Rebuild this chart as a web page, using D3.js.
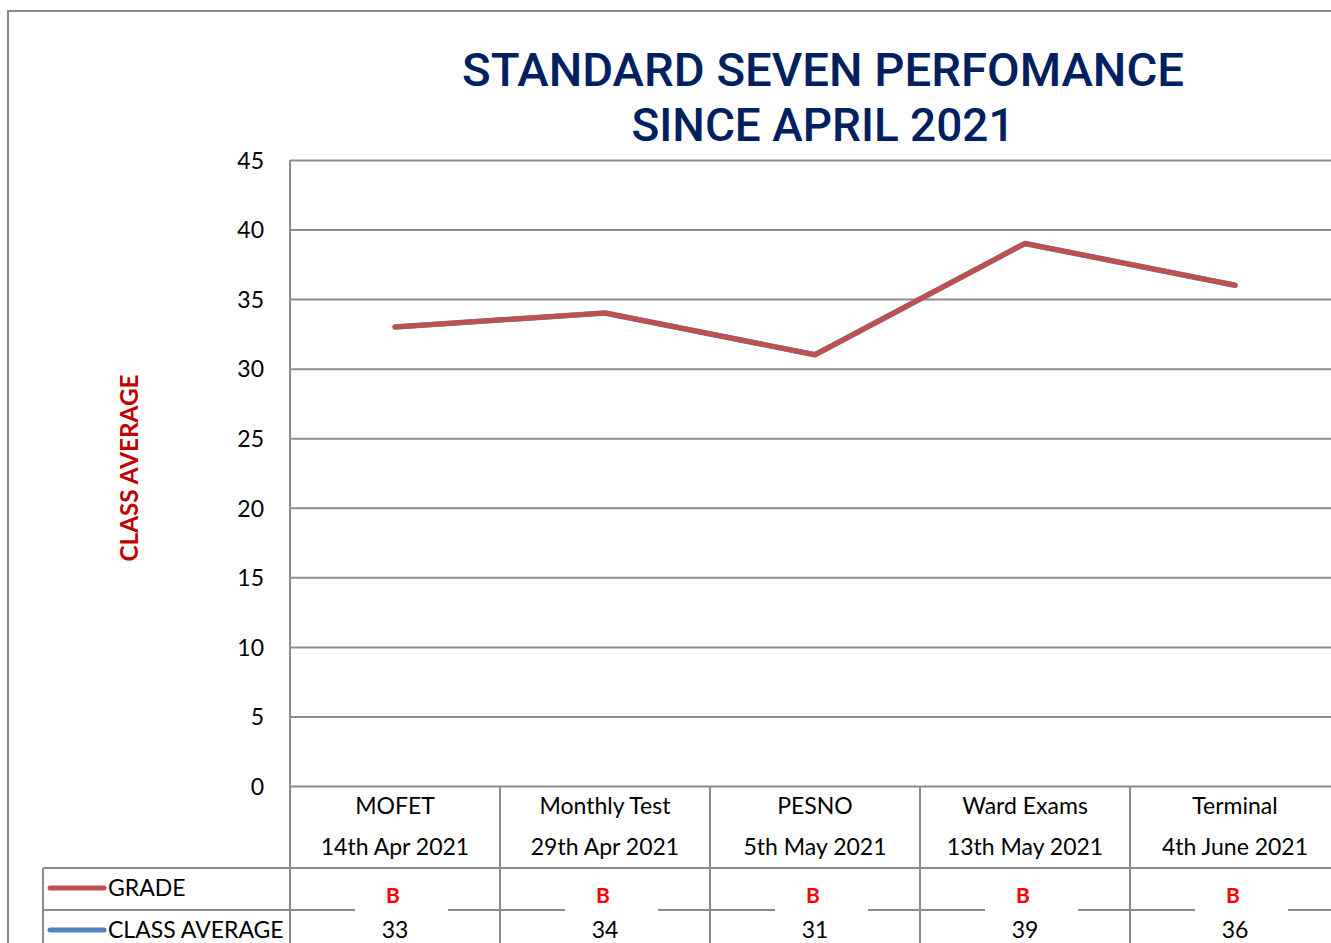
<!DOCTYPE html>
<html>
<head>
<meta charset="utf-8">
<script src="https://cdn.jsdelivr.net/npm/d3@7"></script>
<style>
  body { margin: 0; background: #fff; }
  svg { display: block; }
</style>
</head>
<body>
<div id="chart"></div>
<script>
// data
const categories = ["MOFET", "Monthly Test", "PESNO", "Ward Exams", "Terminal"];
const examDates = ["14th Apr 2021", "29th Apr 2021", "5th May 2021", "13th May 2021", "4th June 2021"];
const classAverage = [33, 34, 31, 39, 36];
const grades = ["B", "B", "B", "B", "B"];
const yTicks = [0, 5, 10, 15, 20, 25, 30, 35, 40, 45];
const titleLines = ["STANDARD SEVEN PERFOMANCE", "SINCE APRIL 2021"];

const W = 1331, H = 943;
const plot = {left: 290, right: 1340, top: 160, bottom: 786};
const gridColor = "#8c8c8c";
const font = "Lato, 'Open Sans', sans-serif";

const svg = d3.select("#chart").append("svg")
    .attr("width", W)
    .attr("height", H);

// outer chart border (cut off on the right and bottom)
svg.append("path")
    .attr("d", "M8," + H + " L8,11 L" + (W + 5) + ",11")
    .attr("fill", "none")
    .attr("stroke", "#888")
    .attr("stroke-width", 2);

var x = d3.scaleBand()
    .domain(categories)
    .range([plot.left, plot.right]);

var y = d3.scaleLinear()
    .domain([0, 45])
    .range([plot.bottom, plot.top]);

// title
svg.append("g").selectAll("text")
    .data(titleLines)
    .enter()
    .append("text")
      .attr("x", 823)
      .attr("y", (d, i) => 86 + i * 55)
      .attr("text-anchor", "middle")
      .attr("textLength", (d, i) => i == 0 ? 722 : 383)
      .attr("lengthAdjust", "spacingAndGlyphs")
      .style("font-family", "Roboto, sans-serif")
      .style("font-weight", 500)
      .style("font-size", "46px")
      .style("fill", "#002060")
      .text(d => d);

// y axis with gridlines
var yAxis = svg.append("g")
    .attr("transform", "translate(" + plot.left + ",0)")
    .call(d3.axisLeft(y)
      .tickValues(yTicks)
      .tickSize(-(plot.right - plot.left))
      .tickPadding(26));
yAxis.select(".domain").remove();
yAxis.selectAll("line")
    .attr("stroke", gridColor)
    .attr("stroke-width", 2);
yAxis.selectAll("text")
    .attr("dy", "0.36em")
    .style("font-family", font)
    .style("font-size", "23px")
    .style("fill", "#000");

// left border of plot area
svg.append("line")
    .attr("x1", plot.left).attr("x2", plot.left)
    .attr("y1", plot.top).attr("y2", H)
    .attr("stroke", gridColor)
    .attr("stroke-width", 2);

// y axis title
svg.append("text")
    .attr("transform", "translate(138,468) rotate(-90)")
    .attr("text-anchor", "middle")
    .attr("textLength", 187)
    .attr("lengthAdjust", "spacingAndGlyphs")
    .style("font-family", font)
    .style("font-weight", "bold")
    .style("font-size", "24px")
    .style("fill", "#C00000")
    .text("CLASS AVERAGE");

// data table lines
const rowGrade = 868, rowAvg = 910;
svg.append("g").selectAll("line")
    .data(categories)
    .enter()
    .append("line")
      .attr("x1", d => x(d) + x.bandwidth())
      .attr("x2", d => x(d) + x.bandwidth())
      .attr("y1", plot.bottom)
      .attr("y2", H)
      .attr("stroke", gridColor)
      .attr("stroke-width", 2);

svg.append("g").selectAll("line")
    .data([rowGrade, rowAvg])
    .enter()
    .append("line")
      .attr("x1", 43)
      .attr("x2", W + 5)
      .attr("y1", d => d)
      .attr("y2", d => d)
      .attr("stroke", gridColor)
      .attr("stroke-width", 2);

svg.append("line")
    .attr("x1", 43).attr("x2", 43)
    .attr("y1", rowGrade).attr("y2", H)
    .attr("stroke", gridColor)
    .attr("stroke-width", 2);

// category labels
var cat = svg.append("g").selectAll("g")
    .data(categories)
    .enter()
    .append("g")
      .attr("transform", d => "translate(" + (x(d) + x.bandwidth() / 2) + ",0)");
cat.append("text")
    .attr("y", 806)
    .attr("dy", "0.36em")
    .text(d => d);
cat.append("text")
    .attr("y", 847)
    .attr("dy", "0.36em")
    .text((d, i) => examDates[i]);
cat.selectAll("text")
    .attr("text-anchor", "middle")
    .style("font-family", font)
    .style("font-size", "23px")
    .style("fill", "#000");

// legend keys
const legend = [
  {name: "GRADE", color: "#C0504D", y: 888},
  {name: "CLASS AVERAGE", color: "#4F81BD", y: 930}
];
var lg = svg.append("g").selectAll("g")
    .data(legend)
    .enter()
    .append("g");
lg.append("line")
    .attr("x1", 50).attr("x2", 104)
    .attr("y1", d => d.y).attr("y2", d => d.y)
    .attr("stroke", d => d.color)
    .attr("stroke-width", 5)
    .attr("stroke-linecap", "round");
lg.append("text")
    .attr("x", 108)
    .attr("y", d => d.y)
    .attr("dy", "0.36em")
    .style("font-family", font)
    .style("font-size", "23px")
    .style("fill", "#000")
    .text(d => d.name);

// grade text boxes
var gb = svg.append("g").selectAll("g")
    .data(grades)
    .enter()
    .append("g")
      .attr("transform", (d, i) => "translate(" + (x(categories[i]) + x.bandwidth() / 2) + ",0)");
gb.append("rect")
    .attr("x", -40)
    .attr("y", rowGrade + 2)
    .attr("width", 93)
    .attr("height", 41)
    .attr("fill", "#fff");
gb.append("text")
    .attr("x", -2)
    .attr("y", 895)
    .attr("dy", "0.36em")
    .attr("text-anchor", "middle")
    .style("font-family", font)
    .style("font-weight", "bold")
    .style("font-size", "21px")
    .style("fill", "#FF0000")
    .text(d => d);

// class average values
svg.append("g").selectAll("text")
    .data(classAverage)
    .enter()
    .append("text")
      .attr("x", (d, i) => x(categories[i]) + x.bandwidth() / 2)
      .attr("y", 930)
      .attr("dy", "0.36em")
      .attr("text-anchor", "middle")
      .style("font-family", font)
      .style("font-size", "23px")
      .style("fill", "#000")
      .text(d => d);

// lines
var line = d3.line()
    .x((d, i) => x(categories[i]) + x.bandwidth() / 2)
    .y(d => y(d));

svg.append("path")
    .datum(classAverage)
    .attr("d", line)
    .attr("fill", "none")
    .attr("stroke", "#4F81BD")
    .attr("stroke-width", 5.5)
    .attr("stroke-linejoin", "round")
    .attr("stroke-linecap", "round");

svg.append("path")
    .datum(classAverage)
    .attr("d", line)
    .attr("fill", "none")
    .attr("stroke", "#C0504D")
    .attr("stroke-width", 5)
    .attr("stroke-linejoin", "round")
    .attr("stroke-linecap", "round");
</script>
</body>
</html>
